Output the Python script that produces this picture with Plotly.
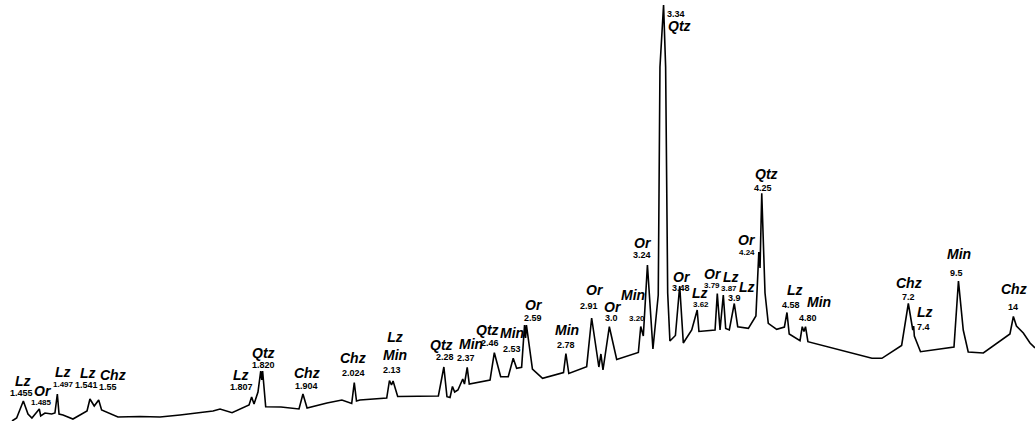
import plotly.graph_objects as go

# ---------------- data: XRD profile (2-theta, Cu K-alpha; intensity arbitrary units)
two_theta = [64.60, 64.33, 63.94, 63.67, 63.44, 63.01, 62.93, 62.68, 62.29, 62.10,
             61.96, 61.86, 61.63, 61.05, 60.23, 60.06, 59.81, 59.55, 59.38, 58.43,
             57.14, 55.98, 54.81, 53.82, 52.89, 52.48, 51.78, 50.79, 50.64, 50.50,
             50.27, 50.11, 50.05, 50.00, 49.82, 48.93, 47.88, 47.65, 47.41, 46.25,
             45.38, 44.81, 44.66, 44.53, 44.33, 42.77, 42.61, 42.49, 42.40, 42.13,
             39.76, 39.44, 39.26, 39.08, 38.94, 38.81, 38.62, 38.34, 38.24, 38.08,
             37.96, 36.75, 36.50, 36.13, 35.69, 35.40, 35.20, 34.91, 34.74, 34.68,
             34.63, 34.28, 33.69, 32.47, 32.33, 32.16, 31.12, 30.83, 30.41, 30.29,
             30.17, 29.80, 29.37, 28.11, 27.97, 27.82, 27.58, 27.26, 26.95, 26.85,
             26.64, 26.52, 26.40, 26.27, 25.95, 25.70, 25.49, 25.00, 24.68, 24.58,
             23.64, 23.51, 23.35, 23.16, 23.02, 22.81, 22.52, 22.32, 21.70, 21.26,
             21.09, 21.02, 20.92, 20.73, 20.54, 20.05, 19.60, 19.45, 19.32, 18.69,
             18.56, 18.46, 18.37, 18.23, 14.50, 13.92, 12.77, 12.38, 12.12, 12.07,
             12.03, 11.67, 9.72, 9.46, 9.18, 8.89, 8.01, 6.46, 6.26, 6.08,
             5.68, 5.29, 5.00]
intensity = [0, 3, 20, 7, 3, 12, 5, 8, 7, 8,
             27, 7, 6, 2, 10, 22, 15, 21, 11, 4,
             4.5, 4, 6, 8, 10, 12, 8.3, 16, 24, 17,
             29, 50, 41, 50, 14.3, 14, 12, 27, 13, 18,
             21, 17.5, 38.3, 20, 21, 23, 40.5, 36, 40, 24.5,
             25, 54, 24.3, 23.5, 34.5, 29, 31, 42, 37, 53.7,
             37, 41, 68.3, 44.3, 44.3, 62.7, 52.7, 53.7, 96, 83,
             96, 52, 42.7, 48.5, 67.5, 47.5, 54.3, 103, 54, 67,
             51, 94.3, 61.5, 68.5, 94.5, 85, 156, 72, 126, 354,
             416, 354, 128, 80, 85.5, 135, 78, 91, 111, 89.5,
             91, 127.5, 91, 126, 92.5, 91, 117.5, 94.3, 92.7, 105,
             169, 153, 227.7, 128, 97.7, 91.7, 94, 108.5, 87, 80.3,
             94.3, 89.5, 94.3, 79.3, 62.7, 62.7, 75.5, 117.5, 91, 95,
             85, 69.3, 74, 140, 91, 69, 68, 87, 104.5, 95,
             88, 78, 73]

# ---------------- data: peak identifications
phases = ["Lz", "Or", "Lz", "Lz", "Chz", "Lz", "Qtz", "Chz", "Chz", "Lz<br>Min",
          "Qtz", "Min", "Qtz", "Min", "Or", "Min", "Or", "Or", "Min", "Or",
          "Qtz", "Or", "Lz", "Or", "Lz", "Lz", "Or", "Qtz", "Lz", "Min",
          "Chz", "Lz", "Min", "Chz"]
d_spacing = ["1.455", "1.485", "1.497", "1.541", "1.55", "1.807", "1.820", "1.904", "2.024", "2.13",
             "2.28", "2.37", "2.46", "2.53", "2.59", "2.78", "2.91", "3.0", "3.20", "3.24",
             "3.34", "3.48", "3.62", "3.79", "3.87", "3.9", "4.24", "4.25", "4.58", "4.80",
             "7.2", "7.4", "9.5", "14"]

# ---------------- label placement (layout only: 2-theta / intensity of text centres)
phase_pos = [(63.96, 40), (62.78, 30), (61.61, 49), (60.16, 47.7), (58.70, 45.8),
             (51.26, 46), (49.92, 68.3), (47.43, 47.7), (44.72, 62.7), (42.29, 75.3),
             (39.57, 76), (37.86, 77.0), (36.91, 91.0), (35.49, 87.7), (34.19, 116),
             (32.28, 91), (30.64, 131), (29.60, 114.3), (28.40, 126), (27.82, 178.3),
             (25.72, 395), (25.58, 144.3), (24.52, 128.0), (23.78, 147.0), (22.73, 144.3),
             (21.80, 133.7), (21.80, 181), (20.67, 247), (18.98, 131), (17.57, 119.3),
             (12.32, 137.7), (11.41, 109.3), (9.41, 167), (6.21, 131.7)]
d_pos = [(64.02, 28), (62.91, 19), (61.60, 37), (60.27, 36), (58.98, 34.3),
         (51.22, 33.7), (49.92, 56), (47.47, 35), (44.68, 47.7), (42.44, 51),
         (39.37, 63.7), (38.15, 63.3), (36.75, 77.7), (35.49, 71.7), (34.23, 102.7),
         (32.32, 76), (30.97, 115), (29.66, 102.7), (28.17, 102.7), (27.91, 166),
         (25.92, 407), (25.62, 132.7), (24.46, 116.5), (23.82, 135.5), (22.81, 132.7),
         (22.48, 122.7), (21.80, 168.7), (20.83, 233.3), (19.22, 116), (18.21, 102.7),
         (12.38, 124.3), (11.51, 93.7), (9.56, 148.3), (6.30, 114.3)]
small_d = {"1.497", "3.20", "3.62", "3.79", "3.87", "4.24", "1.485"}

FONT = "Liberation Sans, Arial, sans-serif"

fig = go.Figure()
fig.add_trace(go.Scatter(x=two_theta, y=intensity, mode="lines",
                         line=dict(color="black", width=1.6), hoverinfo="skip",
                         cliponaxis=False))

annotations = []
for ph, d, (px, py), (dx, dy) in zip(phases, d_spacing, phase_pos, d_pos):
    annotations.append(dict(x=px, y=py, xref="x", yref="y", showarrow=False,
                            text="<b><i>%s</i></b>" % ph, xanchor="center", yanchor="middle",
                            borderpad=0,
                            font=dict(family=FONT, size=14, color="black")))
    annotations.append(dict(x=dx, y=dy, xref="x", yref="y", showarrow=False,
                            text="<b>%s</b>" % d, xanchor="center", yanchor="middle",
                            borderpad=0,
                            font=dict(family=FONT, size=8 if d in small_d else 9, color="black")))

fig.update_layout(
    width=1035, height=421,
    margin=dict(l=0, r=0, t=0, b=0),
    paper_bgcolor="white", plot_bgcolor="white",
    showlegend=False,
    hovermode=False,
    annotations=annotations,
    xaxis=dict(range=[65.30, 5.00], visible=False, showgrid=False, zeroline=False, fixedrange=True),
    yaxis=dict(range=[0, 421], visible=False, showgrid=False, zeroline=False, fixedrange=True),
)

fig.write_html("out.html", config={"displayModeBar": False, "staticPlot": True},
               post_script="document.body.style.margin='0';document.body.style.overflow='hidden';")
